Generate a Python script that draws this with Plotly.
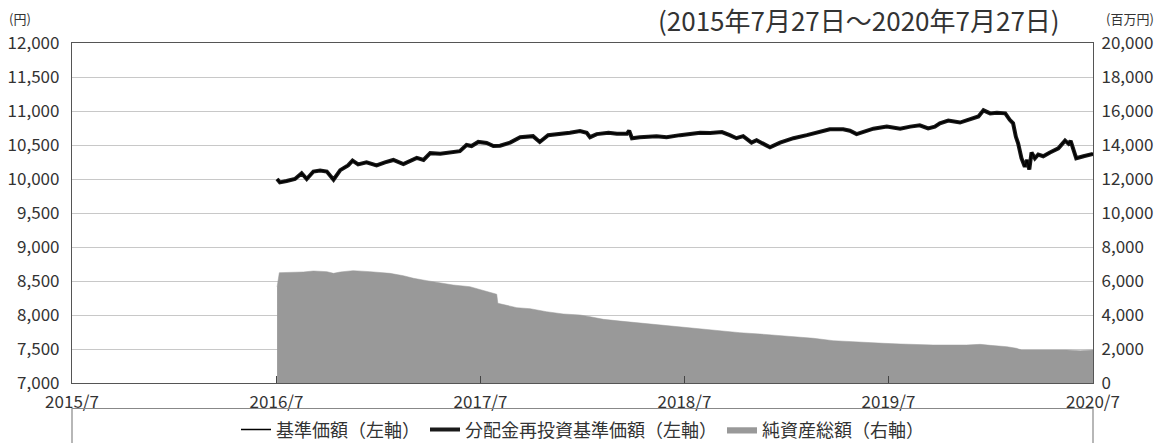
import plotly.graph_objects as go

# 基準価額 / 分配金再投資基準価額 (left axis, 円)
price_dates = [
    "2016-07-28", "2016-08-02", "2016-08-14", "2016-08-29", "2016-09-10", "2016-09-19",
    "2016-10-01", "2016-10-13", "2016-10-25", "2016-11-06", "2016-11-18", "2016-12-02",
    "2016-12-10", "2016-12-20", "2017-01-04", "2017-01-22", "2017-02-06", "2017-02-21",
    "2017-03-11", "2017-03-23", "2017-04-04", "2017-04-16", "2017-04-28", "2017-05-16",
    "2017-06-02", "2017-06-20", "2017-07-02", "2017-07-11", "2017-07-23", "2017-08-07",
    "2017-08-19", "2017-08-31", "2017-09-18", "2017-10-06", "2017-10-29", "2017-11-10",
    "2017-11-25", "2017-12-16", "2018-01-03", "2018-01-21", "2018-02-02", "2018-02-08",
    "2018-02-20", "2018-03-13", "2018-03-28", "2018-04-15", "2018-04-19", "2018-04-24",
    "2018-05-08", "2018-06-07", "2018-06-25", "2018-07-19", "2018-08-06", "2018-08-24",
    "2018-09-11", "2018-10-02", "2018-10-16", "2018-10-28", "2018-11-09", "2018-11-24",
    "2018-12-03", "2018-12-15", "2018-12-27", "2019-01-14", "2019-02-07", "2019-03-03",
    "2019-03-26", "2019-04-13", "2019-05-07", "2019-05-19", "2019-05-31", "2019-06-12",
    "2019-06-30", "2019-07-24", "2019-08-17", "2019-09-04", "2019-09-21", "2019-10-06",
    "2019-10-18", "2019-10-27", "2019-11-11", "2019-12-02", "2019-12-20", "2020-01-04",
    "2020-01-13", "2020-01-25", "2020-02-06", "2020-02-21", "2020-02-29", "2020-03-06",
    "2020-03-11", "2020-03-15", "2020-03-21", "2020-03-27", "2020-03-31", "2020-04-04",
    "2020-04-08", "2020-04-14", "2020-04-20", "2020-04-29", "2020-05-11", "2020-05-26",
    "2020-06-07", "2020-06-13", "2020-06-17", "2020-06-27", "2020-07-10", "2020-07-27",
]
base_price = [
    10000, 9950, 9970, 10000, 10085, 10000,
    10110, 10125, 10110, 9990, 10130, 10200,
    10270, 10215, 10245, 10200, 10245, 10280,
    10220, 10265, 10310, 10280, 10380, 10370,
    10390, 10410, 10500, 10485, 10545, 10530,
    10485, 10490, 10535, 10615, 10630, 10545,
    10645, 10660, 10680, 10705, 10680, 10615,
    10660, 10680, 10665, 10665, 10710, 10600,
    10615, 10630, 10615, 10645, 10660, 10680,
    10675, 10690, 10645, 10600, 10630, 10535,
    10570, 10520, 10465, 10535, 10600, 10645,
    10690, 10730, 10730, 10710, 10660, 10690,
    10740, 10770, 10740, 10770, 10790, 10745,
    10770, 10820, 10860, 10830, 10880, 10920,
    11010, 10965, 10975, 10965, 10870, 10820,
    10620, 10525, 10305, 10180, 10280, 10140,
    10390, 10305, 10360, 10335, 10390, 10450,
    10565, 10520, 10560, 10305, 10335, 10370,
]
reinvest_price = [
    10000, 9950, 9970, 10000, 10085, 10000,
    10110, 10125, 10110, 9990, 10130, 10200,
    10270, 10215, 10245, 10200, 10245, 10280,
    10220, 10265, 10310, 10280, 10380, 10370,
    10390, 10410, 10500, 10485, 10545, 10530,
    10485, 10490, 10535, 10615, 10630, 10545,
    10645, 10660, 10680, 10705, 10680, 10615,
    10660, 10680, 10665, 10665, 10710, 10600,
    10615, 10630, 10615, 10645, 10660, 10680,
    10675, 10690, 10645, 10600, 10630, 10535,
    10570, 10520, 10465, 10535, 10600, 10645,
    10690, 10730, 10730, 10710, 10660, 10690,
    10740, 10770, 10740, 10770, 10790, 10745,
    10770, 10820, 10860, 10830, 10880, 10920,
    11010, 10965, 10975, 10965, 10870, 10820,
    10620, 10525, 10305, 10180, 10280, 10140,
    10390, 10305, 10360, 10335, 10390, 10450,
    10565, 10520, 10560, 10305, 10335, 10370,
]

# 純資産総額 (right axis, 百万円)
asset_dates = [
    "2016-07-28", "2016-08-01", "2016-09-13", "2016-10-01", "2016-10-25", "2016-11-06",
    "2016-11-18", "2016-12-11", "2017-01-10", "2017-02-03", "2017-02-15", "2017-03-11",
    "2017-03-29", "2017-04-22", "2017-05-16", "2017-06-08", "2017-07-08", "2017-07-26",
    "2017-08-13", "2017-08-25", "2017-08-27", "2017-09-12", "2017-09-30", "2017-10-24",
    "2017-11-22", "2017-12-22", "2018-01-21", "2018-02-08", "2018-03-04", "2018-04-03",
    "2018-05-08", "2018-06-13", "2018-07-28", "2018-08-24", "2018-09-29", "2018-11-03",
    "2018-12-09", "2019-01-14", "2019-02-19", "2019-03-15", "2019-04-19", "2019-05-19",
    "2019-06-18", "2019-07-18", "2019-08-17", "2019-10-15", "2019-12-14", "2020-01-07",
    "2020-01-25", "2020-02-24", "2020-03-12", "2020-03-21", "2020-06-10", "2020-07-04",
    "2020-07-27",
]
net_assets = [
    5650, 6490, 6530, 6590, 6550, 6450,
    6530, 6610, 6550, 6510, 6450, 6310,
    6160, 6020, 5900, 5765, 5665, 5510,
    5335, 5220, 4690, 4550, 4430, 4370,
    4195, 4060, 4000, 3900, 3745, 3640,
    3530, 3400, 3250, 3150, 3050, 2960,
    2880, 2800, 2725, 2630, 2490, 2430,
    2370, 2335, 2295, 2235, 2235, 2275,
    2215, 2135, 2040, 1940, 1940, 1900,
    1940,
]

x_tick_vals = ["2015-07-27", "2016-07-27", "2017-07-27", "2018-07-27", "2019-07-27", "2020-07-27"]
x_tick_text = ["2015/7", "2016/7", "2017/7", "2018/7", "2019/7", "2020/7"]

series_names = ["基準価額（左軸）", "分配金再投資基準価額（左軸）", "純資産総額（右軸）"]
title_text = "(2015年7月27日～2020年7月27日)"

FONT = "Noto Sans CJK JP"
TXT = "#333333"

fig = go.Figure()

fig.add_trace(go.Scatter(
    x=asset_dates, y=net_assets, name=series_names[2], mode="lines",
    line=dict(color="#999999", width=0.5), fill="tozeroy", fillcolor="#999999",
    yaxis="y2",
))
fig.add_trace(go.Scatter(
    x=price_dates, y=reinvest_price, name=series_names[1], mode="lines",
    line=dict(color="#1a1a1a", width=4), yaxis="y",
))
fig.add_trace(go.Scatter(
    x=price_dates, y=base_price, name=series_names[0], mode="lines",
    line=dict(color="#000000", width=1.5), yaxis="y",
))

# page body has an 8px margin: figure is sized so plot area lands where the reference has it
fig.update_layout(
    width=1157, height=435, autosize=False,
    margin=dict(l=64, r=72, t=35, b=60, autoexpand=False),
    paper_bgcolor="white", plot_bgcolor="white",
    font=dict(family=FONT, size=16, color=TXT),
    showlegend=True,
    legend=dict(
        orientation="h", x=0.5, xanchor="center",
        y=-0.138, yanchor="middle",
        font=dict(family=FONT, size=18, color=TXT),
        traceorder="reversed", itemwidth=30, bgcolor="rgba(0,0,0,0)",
    ),
    xaxis=dict(
        type="date", range=["2015-07-27", "2020-07-27"],
        tickvals=x_tick_vals, ticktext=x_tick_text,
        ticks="inside", ticklen=7, tickcolor="#444444", tickwidth=1,
        showgrid=False, showline=True, linecolor="#555555", linewidth=1.2,
        mirror=True, tickfont=dict(size=17, color=TXT), zeroline=False,
        ticklabelstandoff=3,
    ),
    yaxis=dict(
        range=[7000, 12000], dtick=500, tick0=7000, tickformat=",",
        showgrid=True, gridcolor="#c8c8c8", gridwidth=1,
        showline=True, linecolor="#555555", linewidth=1.2,
        ticks="", tickfont=dict(size=17, color=TXT), zeroline=False,
        ticklabelstandoff=8,
    ),
    yaxis2=dict(
        range=[0, 20000], dtick=2000, tick0=0, tickformat=",",
        overlaying="y", side="right", showgrid=False,
        showline=True, linecolor="#555555", linewidth=1.2,
        ticks="", tickfont=dict(size=17, color=TXT), zeroline=False,
        ticklabelstandoff=4,
    ),
    annotations=[
        dict(text="(円)", xref="paper", yref="paper", x=-0.051, y=1.0,
             xanchor="center", yanchor="bottom", yshift=13, showarrow=False,
             font=dict(family=FONT, size=13, color=TXT)),
        dict(text="(百万円)", xref="paper", yref="paper", x=1.036, y=1.0,
             xanchor="center", yanchor="bottom", yshift=13, showarrow=False,
             font=dict(family=FONT, size=13, color=TXT)),
        dict(text=title_text, xref="paper", yref="paper", x=0.9696, y=1.0,
             xanchor="right", yanchor="bottom", yshift=3, showarrow=False,
             font=dict(family=FONT, size=26, color=TXT)),
    ],
    shapes=[
        dict(type="rect", xref="paper", yref="paper", x0=0, x1=1, y0=-0.075, y1=-0.35,
             line=dict(color="#888888", width=1.2), fillcolor="rgba(0,0,0,0)", layer="above"),
    ],
)

fig.write_html("out.html")
